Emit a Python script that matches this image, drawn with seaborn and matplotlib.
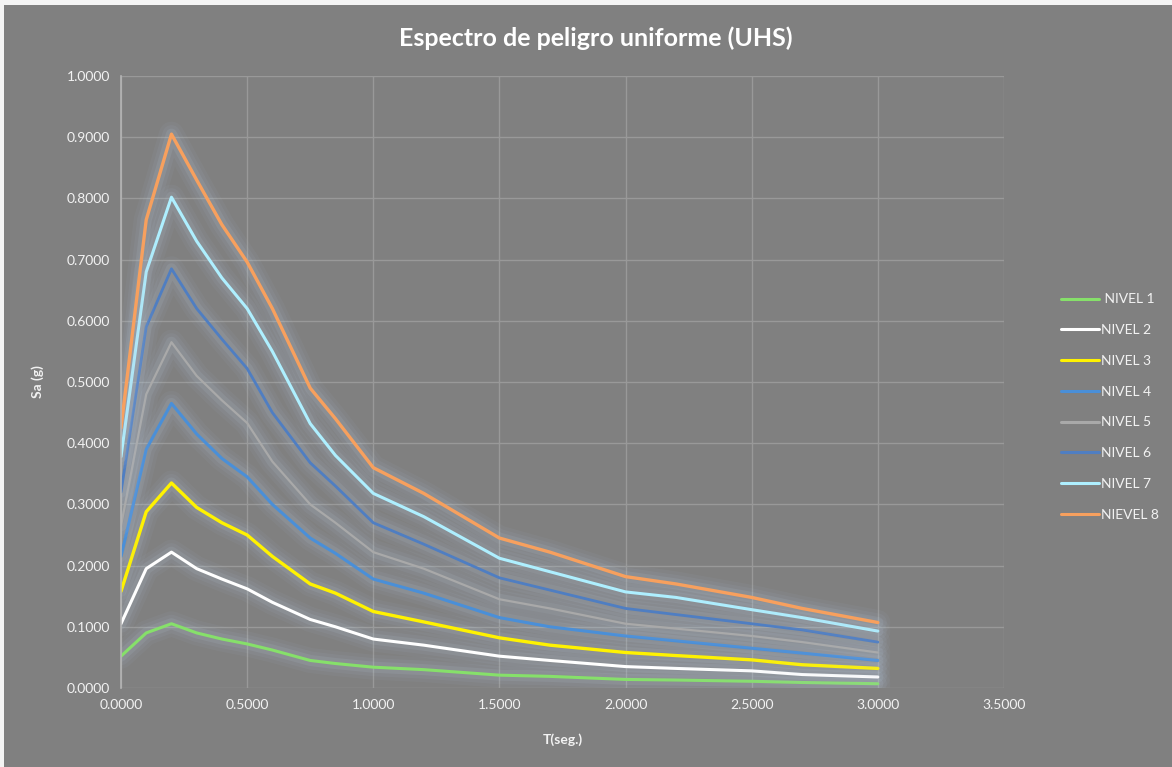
import pandas as pd
import matplotlib
matplotlib.use("Agg")
import matplotlib.pyplot as plt
import matplotlib.patheffects as pe
from matplotlib.lines import Line2D
from matplotlib.patches import Rectangle
import seaborn as sns

# === DATA ===
periodos = [0.0, 0.1, 0.2, 0.3, 0.4, 0.5, 0.6, 0.75, 0.85, 1.0, 1.2, 1.5, 1.7, 2.0, 2.2, 2.5, 2.7, 3.0]

nivel_1 = [0.052, 0.090, 0.105, 0.090, 0.080, 0.072, 0.062, 0.045, 0.040, 0.034, 0.030, 0.021, 0.019, 0.014, 0.013, 0.011, 0.009, 0.007]
nivel_2 = [0.105, 0.195, 0.222, 0.195, 0.178, 0.162, 0.140, 0.112, 0.100, 0.080, 0.070, 0.052, 0.045, 0.035, 0.032, 0.028, 0.022, 0.018]
nivel_3 = [0.158, 0.288, 0.335, 0.295, 0.270, 0.250, 0.215, 0.170, 0.155, 0.125, 0.108, 0.082, 0.070, 0.058, 0.053, 0.046, 0.038, 0.032]
nivel_4 = [0.215, 0.390, 0.465, 0.415, 0.375, 0.345, 0.300, 0.245, 0.220, 0.178, 0.155, 0.115, 0.100, 0.085, 0.077, 0.065, 0.057, 0.045]
nivel_5 = [0.265, 0.480, 0.565, 0.510, 0.470, 0.433, 0.370, 0.300, 0.270, 0.222, 0.195, 0.145, 0.130, 0.105, 0.097, 0.085, 0.075, 0.058]
nivel_6 = [0.320, 0.590, 0.685, 0.620, 0.570, 0.522, 0.450, 0.368, 0.330, 0.270, 0.235, 0.180, 0.160, 0.130, 0.120, 0.105, 0.095, 0.075]
nivel_7 = [0.378, 0.680, 0.802, 0.730, 0.670, 0.620, 0.550, 0.432, 0.380, 0.318, 0.280, 0.212, 0.190, 0.157, 0.148, 0.128, 0.115, 0.093]
nivel_8 = [0.425, 0.765, 0.905, 0.830, 0.757, 0.696, 0.620, 0.490, 0.440, 0.360, 0.318, 0.245, 0.222, 0.182, 0.170, 0.148, 0.130, 0.107]

niveles = ["NIVEL 1", "NIVEL 2", "NIVEL 3", "NIVEL 4", "NIVEL 5", "NIVEL 6", "NIVEL 7", "NIEVEL 8"]
series = [nivel_1, nivel_2, nivel_3, nivel_4, nivel_5, nivel_6, nivel_7, nivel_8]
colores = ["#86E06A", "#FFFFFF", "#FFF200", "#4A8FD8", "#A9A9A9", "#4F7EC2", "#AEEFFF", "#F7A05E"]
grosores = [2.2, 2.2, 2.4, 2.2, 1.6, 2.0, 2.2, 2.4]

x_ticks = [0.0, 0.5, 1.0, 1.5, 2.0, 2.5, 3.0, 3.5]
y_ticks = [0.0, 0.1, 0.2, 0.3, 0.4, 0.5, 0.6, 0.7, 0.8, 0.9, 1.0]

df = pd.concat(
    [pd.DataFrame({"T": periodos, "Sa": s, "nivel": n}) for n, s in zip(niveles, series)],
    ignore_index=True,
)

# === STYLE ===
BG = "#808080"
GRID = "#999999"
TXT = "#F2F2F2"
sns.set_theme(style="white")
plt.rcParams["font.family"] = ["Lato", "DejaVu Sans"]

fig = plt.figure(figsize=(11.72, 7.67), dpi=100, facecolor="#F4F4F4")
fig.patches.append(Rectangle((4 / 1172, 0), 1, 1 - 5 / 767, transform=fig.transFigure,
                             facecolor=BG, edgecolor="none", zorder=-10))
ax = fig.add_axes([121 / 1172, 1 - 688 / 767, 883 / 1172, 612 / 767])
ax.set_facecolor(BG)

sns.lineplot(data=df, x="T", y="Sa", hue="nivel", hue_order=niveles,
             palette=dict(zip(niveles, colores)), linewidth=2.2, ax=ax,
             legend=False, sort=False)

# soft glow like the spreadsheet effect
glow = [pe.Stroke(linewidth=18, foreground="#AFC2D8", alpha=0.06),
        pe.Stroke(linewidth=13, foreground="#AFC2D8", alpha=0.08),
        pe.Stroke(linewidth=8, foreground="#B8C9DC", alpha=0.12),
        pe.Normal()]
for line, lw in zip(ax.lines, grosores):
    line.set_linewidth(lw)
    line.set_path_effects(glow)

ax.set_xlim(0, 3.5)
ax.set_ylim(0, 1.0)
ax.set_xticks(x_ticks)
ax.set_yticks(y_ticks)
ax.set_xticklabels([f"{v:.4f}" for v in x_ticks], color=TXT, fontsize=10)
ax.set_yticklabels([f"{v:.4f}" for v in y_ticks], color=TXT, fontsize=10)
ax.tick_params(axis="both", length=0, pad=8)
ax.grid(True, color=GRID, linewidth=1)
ax.set_axisbelow(True)
for s in ["top", "right", "bottom"]:
    ax.spines[s].set_visible(False)
ax.spines["left"].set_color("#B5B5B5")
ax.spines["left"].set_linewidth(1.2)

ax.set_xlabel("T(seg.)", color=TXT, fontsize=10, fontweight="bold", labelpad=16)
ax.set_ylabel("Sa (g)", color=TXT, fontsize=10, fontweight="bold", labelpad=16)

fig.text(0.508, 1 - 38 / 767, "Espectro de peligro uniforme (UHS)", ha="center", va="center",
         fontsize=18, fontweight="bold", color="#FFFFFF")

# === LEGEND ===
handles = [Line2D([0], [0], color=c, linewidth=2.2) for c in colores]
labels = [" NIVEL 1"] + niveles[1:]
leg = fig.legend(handles, labels, loc="upper left", bbox_to_anchor=(1048 / 1172, 1 - 281 / 767),
                 frameon=False, fontsize=10, labelcolor=TXT, handlelength=2.8,
                 handletextpad=0.1, labelspacing=1.35)

plt.savefig("out.png", dpi=100, facecolor=fig.get_facecolor())
plt.close()
